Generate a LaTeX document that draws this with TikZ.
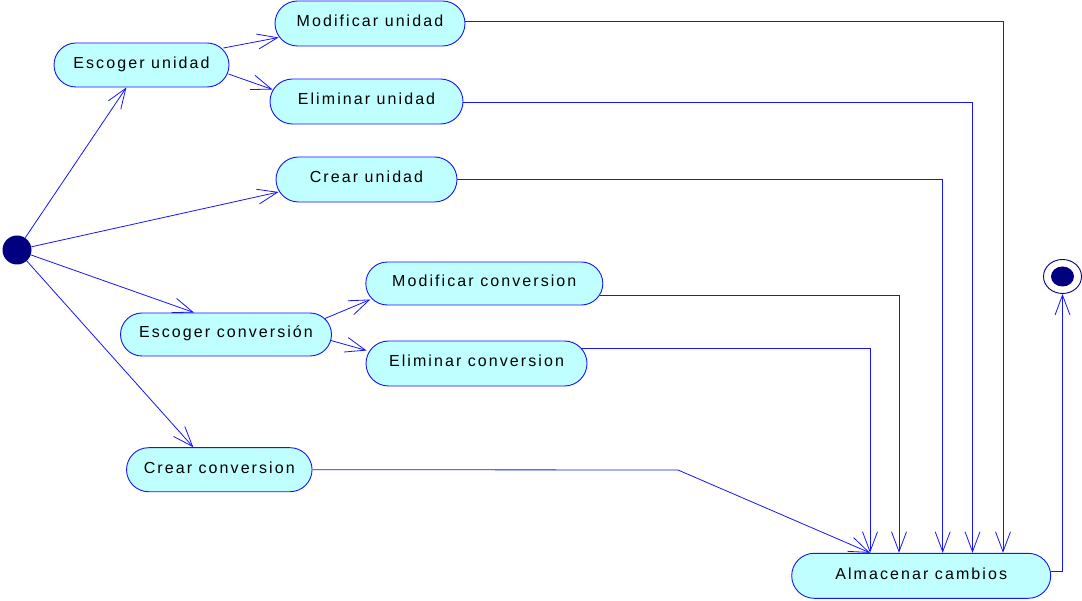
\documentclass[tikz,border=0pt]{standalone}
\usepackage{fontspec}
\setmainfont{Liberation Sans}[LetterSpace=13]
\usetikzlibrary{shapes.misc,shapes.geometric,arrows.meta,calc}
\definecolor{statefill}{RGB}{192,255,255}
\definecolor{edgeblue}{RGB}{20,20,255}
\definecolor{dotnavy}{RGB}{0,0,128}
\begin{document}
\begin{tikzpicture}[x=1pt,y=-1pt,
  activity/.style={rounded rectangle, draw=edgeblue, fill=statefill, line width=0.9pt,
    inner sep=0pt, font=\fontsize{16}{19}\selectfont, text=black,
    text height=12pt, text depth=5pt},
  flow/.style={draw=edgeblue, line width=0.8pt,
    -{Straight Barb[length=20pt,width=15pt,line width=0.8pt]}}
]
\useasboundingbox (0,0) rectangle (1082,601);

% start and end states
\node[circle, fill=dotnavy, minimum size=29pt, inner sep=0pt] (init) at (17,250) {};
\node[ellipse, draw=dotnavy, line width=0.9pt, minimum width=38pt, minimum height=34pt, inner sep=0pt] (fin) at (1062.5,276.5) {};
\node[ellipse, fill=dotnavy, minimum width=23pt, minimum height=20pt, inner sep=0pt] (fincore) at (fin) {};

% activities
\node[activity, minimum width=175pt, minimum height=44pt] (eu) at (141.5,65) {Escoger unidad};
\node[activity, minimum width=190pt, minimum height=45pt] (mu) at (370,23.5) {Modificar unidad};
\node[activity, minimum width=193pt, minimum height=45pt] (el) at (366.5,101.5) {Eliminar unidad};
\node[activity, minimum width=181pt, minimum height=45pt] (cu) at (366.5,179.5) {Crear unidad};
\node[activity, minimum width=211pt, minimum height=43pt] (ec) at (226,334.5) {Escoger conversión};
\node[activity, minimum width=237pt, minimum height=43pt] (mc) at (484.3,283.5) {Modificar conversion};
\node[activity, minimum width=221pt, minimum height=45pt] (ed) at (476.5,363.5) {Eliminar conversion};
\node[activity, minimum width=185.5pt, minimum height=44pt] (cc) at (219.3,469.7) {Crear conversion};
\node[activity, minimum width=259pt, minimum height=45pt] (am) at (921.2,575.8) {Almacenar cambios};

\coordinate (ccbend) at (678,470);

% transitions from the start state
\draw[flow] (init) -- (eu);
\draw[flow] (init) -- ($(cu.west)+(3,12.5)$);
\draw[flow] (init) -- ($(ec.north)+(-32,0)$);
\draw[flow] (init) -- ($(cc.north)+(-26,0)$);

% choices
\draw[flow] ($(eu.east)+(-6,-17)$) -- ($(mu.west)+(4,14)$);
\draw[flow] ($(eu.east)+(-1,9)$) -- ($(el.west)+(3,-12)$);
\draw[flow] ($(ec.east)+(-7,-16)$) -- ($(mc.west)+(5,16)$);
\draw[flow] ($(ec.east)+(-1,6)$) -- ($(ed.west)+(1,-13)$);

% every change ends in storing
\draw[flow] ($(mu.east)+(0,-2.5)$) -| ($(am.north)+(81.8,0)$);
\draw[flow] ($(el.east)+(0,0.5)$) -| ($(am.north)+(51.3,0)$);
\draw[flow] ($(cu.east)+(0,-0.5)$) -| ($(am.north)+(21.5,0)$);
\draw[flow] ($(mc.east)+(-3,11.5)$) -| ($(am.north)+(-22.2,0)$);
\draw[flow] ($(ed.east)+(-6,-15.5)$) -| ($(am.north)+(-51.2,0)$);
\draw[flow] (cc.east) -- (ccbend) -- ($(am.north)+(-51.2,0)$);

% storing leads to the end state
\draw[flow] ($(am.east)+(0,-4.8)$) -| (fin);
\end{tikzpicture}
\end{document}
